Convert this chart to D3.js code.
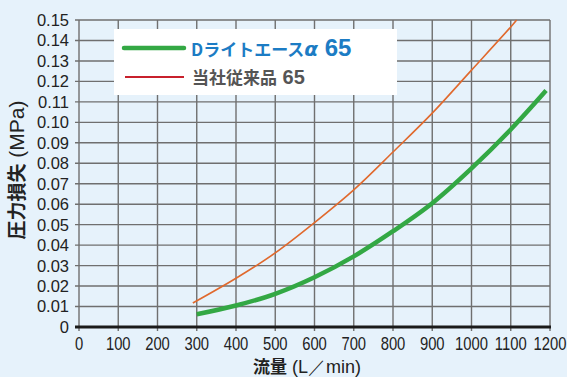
<!DOCTYPE html>
<html>
<head>
<meta charset="utf-8">
<script src="https://cdn.jsdelivr.net/npm/d3@7"></script>
<style>
  body { margin: 0; background: #e6f2fb; }
  svg { display: block; }
</style>
</head>
<body>
<div id="chart"></div>
<script>
// data
const xTicks = [0, 100, 200, 300, 400, 500, 600, 700, 800, 900, 1000, 1100, 1200];
const yTicks = [0, 0.01, 0.02, 0.03, 0.04, 0.05, 0.06, 0.07, 0.08, 0.09, 0.10, 0.11, 0.12, 0.13, 0.14, 0.15];

// Dライトエースα 65
const alphaFlow = [300, 400, 500, 600, 700, 800, 900, 1000, 1100, 1190];
const alphaLoss = [0.0062, 0.0105, 0.0162, 0.0243, 0.0345, 0.0468, 0.0605, 0.0775, 0.0965, 0.1155];

// 当社従来品 65
const oldFlow = [290, 400, 500, 600, 700, 800, 900, 1000, 1100, 1115];
const oldLoss = [0.0117, 0.0238, 0.0362, 0.051, 0.067, 0.0855, 0.1045, 0.1255, 0.1466, 0.150];

const W = 567, H = 377;
const margin = { top: 20, right: 17, bottom: 50, left: 79 };

const svg = d3.select("#chart").append("svg")
  .attr("width", W)
  .attr("height", H);

svg.append("rect").attr("width", W).attr("height", H).attr("fill", "#e6f2fb");

const x = d3.scaleLinear().domain([0, 1200]).range([margin.left, W - margin.right]);
const y = d3.scaleLinear().domain([0, 0.15]).range([H - margin.bottom, margin.top]);

const gridColor = "#6f6f6f";

// vertical grid + ticks below axis
svg.append("g")
  .selectAll("line")
  .data(xTicks)
  .join("line")
  .attr("x1", d => x(d)).attr("x2", d => x(d))
  .attr("y1", y(0.15)).attr("y2", y(0) + 4)
  .attr("stroke", gridColor)
  .attr("stroke-width", 1.4);

// horizontal grid + ticks left of axis
svg.append("g")
  .selectAll("line")
  .data(yTicks.slice(1))
  .join("line")
  .attr("x1", x(0) - 4).attr("x2", x(1200))
  .attr("y1", d => y(d)).attr("y2", d => y(d))
  .attr("stroke", gridColor)
  .attr("stroke-width", 1.4);

// x axis line (thick)
svg.append("line")
  .attr("x1", x(0) - 4).attr("x2", x(1200) + 1)
  .attr("y1", y(0)).attr("y2", y(0))
  .attr("stroke", "#1a1a1a")
  .attr("stroke-width", 3);

// y tick labels
svg.append("g")
  .selectAll("text")
  .data(yTicks)
  .join("text")
  .attr("x", 69)
  .attr("y", d => y(d))
  .attr("dy", "0.36em")
  .attr("text-anchor", "end")
  .attr("font-family", "'Liberation Sans', Arial, sans-serif")
  .attr("font-size", 16.5)
  .attr("fill", "#222")
  .text(d => d === 0 ? "0" : d3.format(".2f")(d));

// x tick labels (condensed like the original)
svg.append("g")
  .selectAll("text")
  .data(xTicks)
  .join("text")
  .attr("transform", d => `translate(${x(d)},350) scale(0.8,1)`)
  .attr("text-anchor", "middle")
  .attr("font-family", "'Liberation Sans', Arial, sans-serif")
  .attr("font-size", 18.5)
  .attr("fill", "#222")
  .text(d => d);

// curves
const line = d3.line()
  .x(d => x(d[0]))
  .y(d => y(d[1]))
  .curve(d3.curveCatmullRom.alpha(0.5));

svg.append("path")
  .datum(d3.zip(oldFlow, oldLoss))
  .attr("d", line)
  .attr("fill", "none")
  .attr("stroke", "#e0692d")
  .attr("stroke-width", 1.6);

svg.append("path")
  .datum(d3.zip(alphaFlow, alphaLoss))
  .attr("d", line)
  .attr("fill", "none")
  .attr("stroke", "#33a844")
  .attr("stroke-width", 4.5);

// legend
const lg = svg.append("g");
lg.append("rect")
  .attr("x", 114).attr("y", 29)
  .attr("width", 283).attr("height", 66)
  .attr("fill", "#ffffff");

lg.append("line")
  .attr("x1", 124).attr("x2", 184)
  .attr("y1", 48).attr("y2", 48)
  .attr("stroke", "#33a844")
  .attr("stroke-width", 4.5)
  .attr("stroke-linecap", "round");

lg.append("line")
  .attr("x1", 125).attr("x2", 184)
  .attr("y1", 77).attr("y2", 77)
  .attr("stroke", "#c8202c")
  .attr("stroke-width", 2);

const t1 = lg.append("text")
  .attr("x", 191).attr("y", 56)
  .attr("font-family", "'Noto Sans CJK JP', sans-serif")
  .attr("font-weight", "bold")
  .attr("fill", "#1c7cc4");
t1.append("tspan").attr("font-size", 17).text("Dライトエース");
t1.append("tspan").attr("font-size", 20).attr("font-style", "italic").attr("font-family", "'DejaVu Sans', sans-serif").text("α");
t1.append("tspan").attr("font-size", 24).attr("font-family", "'Liberation Sans', Arial, sans-serif").text(" 65");

const t2 = lg.append("text")
  .attr("x", 192).attr("y", 84)
  .attr("font-family", "'Noto Sans CJK JP', sans-serif")
  .attr("font-weight", "bold")
  .attr("fill", "#555555");
t2.append("tspan").attr("font-size", 17).text("当社従来品");
t2.append("tspan").attr("font-size", 20).attr("font-family", "'Liberation Sans', Arial, sans-serif").text(" 65");

// axis titles
const yt = svg.append("text")
  .attr("transform", "translate(24,170) rotate(-90)")
  .attr("text-anchor", "middle")
  .attr("font-family", "'Noto Sans CJK JP', sans-serif")
  .attr("font-size", 19)
  .attr("fill", "#222");
yt.append("tspan").attr("font-weight", "bold").text("圧力損失");
yt.append("tspan").attr("font-family", "'Liberation Sans', Arial, sans-serif").attr("font-size", 21).text(" (MPa)");

const xt = svg.append("text")
  .attr("x", 307).attr("y", 373)
  .attr("text-anchor", "middle")
  .attr("font-family", "'Noto Sans CJK JP', sans-serif")
  .attr("font-size", 17)
  .attr("fill", "#222");
xt.append("tspan").attr("font-weight", "bold").text("流量");
xt.append("tspan").attr("font-family", "'Liberation Sans', Arial, sans-serif").attr("font-size", 18).text(" (L／min)");
</script>
</body>
</html>
